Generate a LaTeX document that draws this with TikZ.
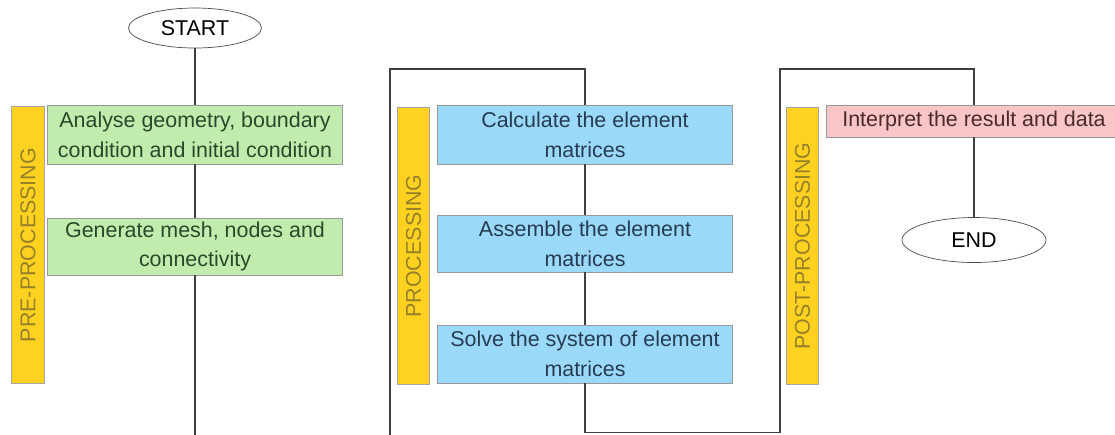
\documentclass[tikz,border=0pt]{standalone}
\usepackage{fontspec}
\setmainfont{Liberation Sans}
\usetikzlibrary{shapes.geometric}
\definecolor{boxgreen}{RGB}{194,236,174}
\definecolor{boxblue}{RGB}{155,217,248}
\definecolor{boxpink}{RGB}{248,198,198}
\definecolor{baryellow}{RGB}{255,210,34}
\definecolor{barolive}{RGB}{150,128,40}
\definecolor{txtgreen}{RGB}{42,72,42}
\definecolor{txtblue}{RGB}{38,60,82}
\definecolor{txtpink}{RGB}{74,42,42}

\begin{document}
\begin{tikzpicture}[x=0.02cm, y=-0.02cm,
    font=\fontsize{12.2}{17}\selectfont,
    box/.style={rectangle, draw=black!40, inner sep=0pt, align=center, minimum width=5.9cm},
    term/.style={ellipse, draw=black!70, inner sep=0pt},
    bar/.style={rectangle, draw=black!35, fill=baryellow, text=barolive, rotate=90, inner sep=0pt, minimum width=5.54cm, minimum height=0.65cm},
    link/.style={draw=black!75, line width=0.7pt}]
\clip (0,0) rectangle (1115,434);
    \node[term, minimum width=2.66cm, minimum height=0.8cm] (s) at (195,28) {START};
    \node[box, fill=boxgreen, text=txtgreen, minimum height=1.18cm] (1) at (195,134.5) {Analyse geometry, boundary\\condition and initial condition};
    \node[box, fill=boxgreen, text=txtgreen, minimum height=1.14cm] (2) at (195,246.5) {Generate mesh, nodes and\\connectivity};
    \node[bar] (p1) at (28,245) {PRE-PROCESSING};
    \node[box, fill=boxblue, text=txtblue, minimum height=1.18cm] (3) at (585,134.5) {Calculate the element\\matrices};
    \node[box, fill=boxblue, text=txtblue, minimum height=1.14cm] (4) at (585,243.5) {Assemble the element\\matrices};
    \node[box, fill=boxblue, text=txtblue, minimum height=1.16cm] (5) at (585,354) {Solve the system of element\\matrices};
    \node[bar] (p2) at (413.5,246) {PROCESSING};
    \node[box, fill=boxpink, text=txtpink, minimum height=0.64cm] (6) at (974,121) {Interpret the result and data};
    \node[bar] (p3) at (802.5,246) {POST-PROCESSING};
    \node[term, minimum width=2.88cm, minimum height=0.9cm] (e) at (974,240) {END};
    \coordinate (a1) at (195,437);
    \coordinate (a2) at (390,437);
    \coordinate (b1) at (585,432.5);
    \coordinate (b2) at (780,432.5);
\begin{scope}[link]
    \draw (s) -- (1);
    \draw (1) -- (2);
    \draw (2) -- (a1) -- (a2) |- (585,69) -- (3);
    \draw (3) -- (4);
    \draw (4) -- (5);
    \draw (5) -- (b1) -- (b2) |- (974,69) -- (6);
    \draw (6) -- (e);
\end{scope}
\end{tikzpicture}
\end{document}
